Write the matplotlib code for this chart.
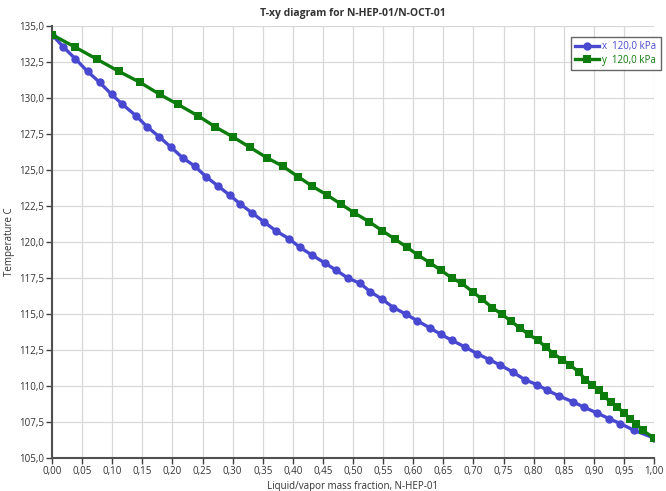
import matplotlib
matplotlib.use("Agg")
import matplotlib.pyplot as plt
from matplotlib.ticker import MultipleLocator, FuncFormatter

# Temperatures (C) of each equilibrium point
temperature = [134.40, 133.54, 132.71, 131.85, 131.09, 130.25, 129.56, 128.75, 128.00, 127.31,
               126.57, 125.85, 125.27, 124.53, 123.88, 123.26, 122.63, 122.03, 121.40, 120.77,
               120.22, 119.62, 119.09, 118.55, 118.04, 117.51, 117.12, 116.54, 116.01, 115.45,
               114.99, 114.52, 114.03, 113.58, 113.18, 112.71, 112.25, 111.84, 111.44, 110.98,
               110.45, 110.10, 109.70, 109.29, 108.89, 108.54, 108.13, 107.74, 107.39, 106.92,
               106.39]

# Liquid mass fraction of N-HEP-01
x_liquid = [0.000, 0.019, 0.039, 0.059, 0.079, 0.099, 0.117, 0.140, 0.158, 0.178,
            0.198, 0.217, 0.237, 0.256, 0.276, 0.295, 0.313, 0.332, 0.352, 0.372,
            0.394, 0.412, 0.432, 0.453, 0.472, 0.491, 0.512, 0.529, 0.549, 0.567,
            0.588, 0.607, 0.628, 0.646, 0.664, 0.686, 0.706, 0.726, 0.745, 0.765,
            0.785, 0.805, 0.823, 0.843, 0.866, 0.883, 0.905, 0.925, 0.944, 0.967,
            1.000]

# Vapor mass fraction of N-HEP-01
y_vapor = [0.000, 0.038, 0.074, 0.111, 0.146, 0.179, 0.209, 0.243, 0.271, 0.300,
           0.329, 0.357, 0.383, 0.409, 0.432, 0.457, 0.480, 0.502, 0.527, 0.549,
           0.569, 0.590, 0.608, 0.628, 0.646, 0.664, 0.681, 0.699, 0.715, 0.731,
           0.747, 0.762, 0.777, 0.792, 0.807, 0.820, 0.833, 0.847, 0.861, 0.875,
           0.886, 0.897, 0.908, 0.917, 0.928, 0.939, 0.950, 0.960, 0.970, 0.981,
           1.000]

series_labels = ["x  120,0 kPa", "y  120,0 kPa"]
title = "T-xy diagram for N-HEP-01/N-OCT-01"
xlabel = "Liquid/vapor mass fraction, N-HEP-01"
ylabel = "Temperature C"

blue = "#4848d0"
green = "#0c7c0c"

plt.rcParams['font.family'] = ['Open Sans', 'DejaVu Sans']

fig = plt.figure(figsize=(6.66, 4.91), dpi=100)
ax = fig.add_axes([52/666, 1-458/491, (654-52)/666, (458-26)/491])

l1, = ax.plot(x_liquid, temperature, color=blue, lw=2.4, marker='o', ms=6,
              markeredgewidth=0, label=series_labels[0], zorder=3)
l2, = ax.plot(y_vapor, temperature, color=green, lw=2.4, marker='s', ms=6.3,
              markeredgewidth=0, label=series_labels[1], zorder=3)

ax.set_xlim(0, 1)
ax.set_ylim(105, 135)
ax.xaxis.set_major_locator(MultipleLocator(0.05))
ax.yaxis.set_major_locator(MultipleLocator(2.5))
ax.xaxis.set_major_formatter(FuncFormatter(lambda v, p: f"{v:.2f}".replace('.', ',')))
ax.yaxis.set_major_formatter(FuncFormatter(lambda v, p: f"{v:.1f}".replace('.', ',')))

ax.grid(True, color="#d8d8d8", lw=0.9)
ax.set_axisbelow(True)
for s in ['top', 'right']:
    ax.spines[s].set_visible(False)
for s in ['left', 'bottom']:
    ax.spines[s].set_color("#505050")
    ax.spines[s].set_linewidth(1.5)
ax.tick_params(axis='both', labelsize=7, colors="#404040", length=4, width=1, labelcolor="#333333", pad=2)

ax.set_title(title, fontsize=7.5, fontweight='bold', color="#333333", pad=7)
ax.set_xlabel(xlabel, fontsize=7, color="#333333", labelpad=3)
ax.set_ylabel(ylabel, fontsize=7, color="#333333")
ax.yaxis.set_label_coords(-37/602, 0.5)

leg = fig.legend(handles=[l1, l2], loc='upper right', bbox_to_anchor=(661/666, 1-37/491),
                 borderaxespad=0, fontsize=7, frameon=True, fancybox=False, handlelength=2.4,
                 handletextpad=0.4, borderpad=0.45, labelspacing=0.25)
leg.get_frame().set_edgecolor("#404040")
leg.get_frame().set_linewidth(1.0)
for txt, c in zip(leg.get_texts(), [blue, green]):
    txt.set_color(c)

fig.savefig("out.png", dpi=100)
